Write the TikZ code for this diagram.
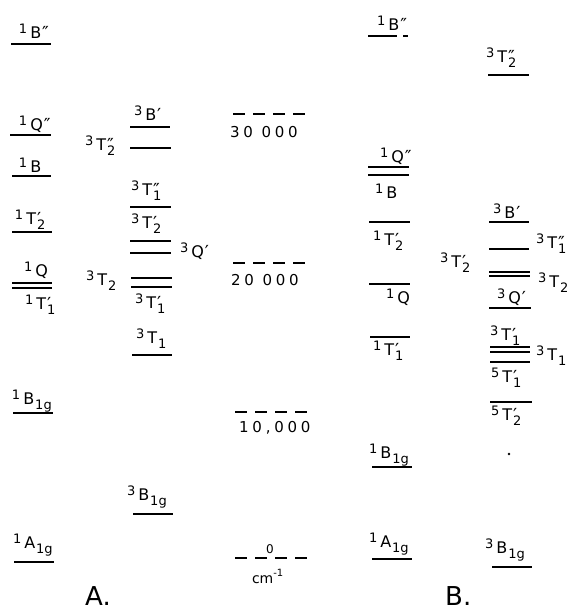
\documentclass[tikz,border=0pt]{standalone}
\usepackage{fontspec}
\setmainfont{DejaVu Sans}
\newfontfamily\scalefnt{DejaVu Sans}[LetterSpace=25]
\newcommand\msz{\fontsize{13}{14}\selectfont}
\newcommand\lsz{\fontsize{16}{17}\selectfont}
\newcommand\psz{\fontsize{18}{19}\selectfont}
\newcommand\subsup[2]{{\msz\sbox0{#1}\sbox2{\psz #2}\rlap{\raisebox{-5pt}{\usebox0}}\rlap{\raisebox{-1pt}{\usebox2}}\dimen0=\wd0 \ifdim\wd2>\dimen0 \dimen0=\wd2\fi\hskip\dimen0}}
\newcommand\lv[4]{{\msz\raisebox{5pt}{#1}}\hspace{3pt}{\lsz #2}\hspace{1pt}\subsup{#3}{#4}}
\tikzset{
  level/.style={line width=1.5pt},
  lab/.style={anchor=base west, inner sep=0pt, outer sep=0pt},
  scaleline/.style={line width=1.4pt, dash pattern=on 12pt off 8pt},
  scaletxt/.style={anchor=base west, inner sep=0pt, font=\scalefnt\fontsize{15}{16}\selectfont},
  bigtxt/.style={anchor=base west, inner sep=0pt, text depth=0pt, font=\fontsize{26}{28}\selectfont}
}
\begin{document}
\begin{tikzpicture}[x=1pt,y=-1pt]
\useasboundingbox (0,0) rectangle (578,611);
% ---------- A, singlets ----------
\draw[level] (11,44) -- (51,44);
\node[lab] (aB2) at (19,38) {\lv{1}{B}{}{″}};
\draw[level] (10,135) -- (51,135);
\node[lab] (aQ2) at (19,130) {\lv{1}{Q}{}{″}};
\draw[level] (12,176) -- (51,176);
\node[lab] (aB) at (19,172) {\lv{1}{B}{}{}};
\draw[level] (12,232) -- (52,232);
\node[lab] (aT2) at (15,224) {\lv{1}{T}{2}{′}};
\draw[level] (12,283) -- (52,283);
\draw[level] (12,288) -- (52,288);
\node[lab] (aQ) at (24,276) {\lv{1}{Q}{}{}};
\node[lab] (aT1) at (25,309) {\lv{1}{T}{1}{′}};
\draw[level] (13,413) -- (53,413);
\node[lab] (aB1g) at (12,404) {\lv{1}{B}{1g}{}};
\draw[level] (14,562) -- (54,562);
\node[lab] (aA1g) at (13,548) {\lv{1}{A}{1g}{}};
% ---------- A, triplets ----------
\draw[level] (130,127) -- (170,127);
\node[lab] (tB) at (134,120) {\lv{3}{B}{}{′}};
\draw[level] (130,148) -- (171,148);
\node[lab] (tT2b) at (85,150) {\lv{3}{T}{2}{″}};
\draw[level] (130,207) -- (171,207);
\node[lab] (tT1b) at (131,195) {\lv{3}{T}{1}{″}};
\draw[level] (130,241) -- (171,241);
\node[lab] (tT2a) at (131,228) {\lv{3}{T}{2}{′}};
\draw[level] (130,253) -- (171,253);
\node[lab] (tQ) at (180,257) {\lv{3}{Q}{}{′}};
\draw[level] (131,278) -- (172,278);
\draw[level] (131,287) -- (172,287);
\node[lab] (tT2) at (86,285) {\lv{3}{T}{2}{}};
\node[lab] (tT1a) at (135,308) {\lv{3}{T}{1}{′}};
\draw[level] (132,355) -- (172,355);
\node[lab] (tT1) at (136,343) {\lv{3}{T}{1}{}};
\draw[level] (133,514) -- (173,514);
\node[lab] (tB1g) at (127,500) {\lv{3}{B}{1g}{}};
% ---------- scale ----------
\draw[scaleline] (233,114) -- (306,114);
\node[scaletxt] (s30) at (230,137) {30 000};
\draw[scaleline] (233,263) -- (306,263);
\node[scaletxt] (s20) at (231,285) {20 000};
\draw[scaleline] (235,412) -- (308,412);
\node[scaletxt] (s10) at (239,432) {10,000};
\draw[scaleline] (235,558) -- (308,558);
\node[lab, font=\fontsize{12}{13}\selectfont] (s0) at (266,553) {0};
\node[lab, font=\fontsize{14}{15}\selectfont] (scm) at (252,583) {cm\raisebox{7pt}{\fontsize{10}{11}\selectfont -1}};
% ---------- B, singlets ----------
\draw[level] (368,36) -- (397,36);
\draw[level] (403,36) -- (408,36);
\node[lab] (bB2) at (377,30) {\lv{1}{B}{}{″}};
\draw[level] (368,167) -- (409,167);
\draw[level] (368,175) -- (409,175);
\node[lab] (bQ2) at (380,162) {\lv{1}{Q}{}{″}};
\node[lab] (bB) at (375,198) {\lv{1}{B}{}{}};
\draw[level] (369,222) -- (410,222);
\node[lab] (bT2) at (373,245) {\lv{1}{T}{2}{′}};
\draw[level] (369,284) -- (410,284);
\node[lab] (bQ) at (386,303) {\lv{1}{Q}{}{}};
\draw[level] (370,337) -- (410,337);
\node[lab] (bT1) at (373,355) {\lv{1}{T}{1}{′}};
\draw[level] (372,467) -- (412,467);
\node[lab] (bB1g) at (369,458) {\lv{1}{B}{1g}{}};
\draw[level] (372,559) -- (412,559);
\node[lab] (bA1g) at (369,547) {\lv{1}{A}{1g}{}};
% ---------- B, triplets / quintets ----------
\draw[level] (488,75) -- (529,75);
\node[lab] (uT2b) at (486,62) {\lv{3}{T}{2}{″}};
\draw[level] (489,222) -- (529,222);
\node[lab] (uB) at (493,218) {\lv{3}{B}{}{′}};
\draw[level] (489,249) -- (529,249);
\node[lab] (uT1b) at (536,248) {\lv{3}{T}{1}{″}};
\node[lab] (uT2a) at (440,267) {\lv{3}{T}{2}{′}};
\draw[level] (489,272) -- (530,272);
\draw[level] (489,276) -- (530,276);
\node[lab] (uT2) at (538,287) {\lv{3}{T}{2}{}};
\draw[level] (489,308) -- (531,308);
\node[lab] (uQ) at (497,303) {\lv{3}{Q}{}{′}};
\draw[level] (490,347) -- (530,347);
\draw[level] (490,352) -- (530,352);
\node[lab] (uT1a) at (490,340) {\lv{3}{T}{1}{′}};
\draw[level] (490,362) -- (530,362);
\node[lab] (uT1) at (536,360) {\lv{3}{T}{1}{}};
\node[lab] (qT1) at (491,382) {\lv{5}{T}{1}{′}};
\draw[level] (490,402) -- (532,402);
\node[lab] (qT2) at (491,420) {\lv{5}{T}{2}{′}};
\fill (509,454) circle (1.3pt);
\draw[level] (492,567) -- (532,567);
\node[lab] (uB1g) at (485,553) {\lv{3}{B}{1g}{}};
% ---------- panel letters ----------
\node[bigtxt] (pA) at (85,605) {A.};
\node[bigtxt] (pB) at (445,605) {B.};
\end{tikzpicture}
\end{document}
